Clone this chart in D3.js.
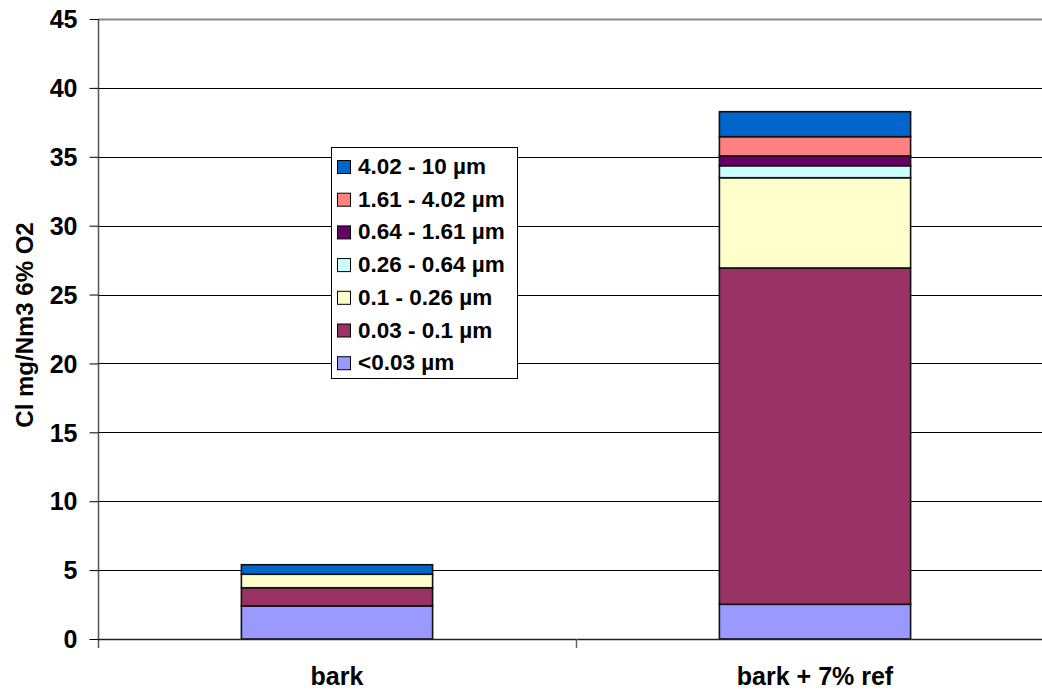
<!DOCTYPE html>
<html>
<head>
<meta charset="utf-8">
<script src="https://cdn.jsdelivr.net/npm/d3@7"></script>
<style>
  html, body { margin: 0; padding: 0; background: #fff; }
  svg { display: block; font-family: "Liberation Sans", Arial, sans-serif; font-weight: bold; }
</style>
</head>
<body>
<svg id="chart" width="1042" height="693"></svg>
<script>
// Cl concentration by particle size fraction (mg/Nm3 at 6% O2)
const categories = ["bark", "bark + 7% ref"];
const sizeClasses = ["<0.03 µm", "0.03 - 0.1 µm", "0.1 - 0.26 µm", "0.26 - 0.64 µm",
                     "0.64 - 1.61 µm", "1.61 - 4.02 µm", "4.02 - 10 µm"];
const colors = ["#9999FF", "#993366", "#FFFFCC", "#CCFFFF", "#660066", "#FF8080", "#0066CC"];
const barkValues = [2.40, 1.32, 0.98, 0.0, 0.0, 0.0, 0.69];
const refValues  = [2.52, 24.41, 6.55, 0.87, 0.71, 1.40, 1.81];
const yTicks = [0, 5, 10, 15, 20, 25, 30, 35, 40, 45];

(function draw() {
  const seriesValues = [barkValues, refValues];
  const rows = categories.map((c, i) => {
    const r = { category: c };
    sizeClasses.forEach((s, j) => { r[s] = seriesValues[i][j]; });
    return r;
  });

  const svg = d3.select("#chart");
  const pLeft = 98, pRight = 1054, pTop = 19, pBottom = 639;
  const fontFam = "Liberation Sans, Arial, sans-serif";

  const x = d3.scaleBand().domain(categories).range([pLeft, pRight])
    .paddingInner(0.6).paddingOuter(0.3);
  const y = d3.scaleLinear().domain([0, 45]).range([pBottom, pTop]);

  // horizontal gridlines
  svg.append("g").selectAll("line")
    .data(yTicks.filter(t => t > 0))
    .join("line")
    .attr("x1", pLeft).attr("x2", pRight)
    .attr("y1", d => Math.round(y(d)) + 0.5).attr("y2", d => Math.round(y(d)) + 0.5)
    .attr("stroke", d => d === 45 ? "#888" : "#000")
    .attr("stroke-width", d => d === 45 ? 2 : 1);

  // stacked bars
  const stack = d3.stack().keys(sizeClasses)(rows);
  svg.append("g").selectAll("g")
    .data(stack)
    .join("g")
    .attr("fill", (d, i) => colors[i])
    .selectAll("rect")
    .data(d => d.filter(p => p[1] - p[0] > 0))
    .join("rect")
    .attr("x", d => x(d.data.category))
    .attr("width", x.bandwidth())
    .attr("y", d => y(d[1]))
    .attr("height", d => y(d[0]) - y(d[1]))
    .attr("stroke", "#111")
    .attr("stroke-width", 1.6);

  // y axis
  const yAxis = d3.axisLeft(y).tickValues(yTicks).tickSize(9).tickPadding(12);
  const gy = svg.append("g").attr("transform", `translate(${pLeft + 0.5},0)`).call(yAxis);
  gy.attr("font-size", null).attr("font-family", null);
  gy.select(".domain").attr("stroke", "#555").attr("stroke-width", 1.5)
    .attr("d", `M0,${pTop}V${pBottom + 9}`);
  gy.selectAll(".tick line").attr("stroke", "#000");
  gy.selectAll("text")
    .style("font-size", "25px").style("font-weight", "bold")
    .style("font-family", fontFam).attr("fill", "#000")
    .attr("dy", "0.35em");

  // x axis
  const xAxis = d3.axisBottom(x).tickSize(0).tickPadding(0).tickFormat(() => "");
  const gx = svg.append("g").attr("transform", `translate(0,${pBottom + 0.5})`).call(xAxis);
  gx.select(".domain").attr("stroke", "#222").attr("stroke-width", 1.5)
    .attr("d", `M${pLeft},0H${pRight}`);
  // category separators
  const seps = [pLeft + x.step(), pRight];
  svg.append("g").selectAll("line").data(seps).join("line")
    .attr("x1", d => Math.round(d) + 0.5).attr("x2", d => Math.round(d) + 0.5)
    .attr("y1", pBottom).attr("y2", pBottom + 9)
    .attr("stroke", "#666").attr("stroke-width", 1.5);

  // category labels
  svg.append("g").selectAll("text").data(categories).join("text")
    .attr("x", d => x(d) + x.bandwidth() / 2)
    .attr("y", 685)
    .attr("text-anchor", "middle")
    .style("font-size", "25px")
    .attr("fill", "#000")
    .text(d => d);

  // y axis title
  svg.append("text")
    .attr("transform", "translate(33,325) rotate(-90)")
    .attr("text-anchor", "middle")
    .style("font-size", "24px")
    .attr("fill", "#000")
    .text("Cl mg/Nm3 6% O2");

  // legend
  const lg = svg.append("g").attr("transform", "translate(331,147)");
  lg.append("rect").attr("x", 0.5).attr("y", 0.5).attr("width", 186).attr("height", 231)
    .attr("fill", "#fff").attr("stroke", "#000").attr("stroke-width", 1);
  const legendOrder = sizeClasses.map((s, i) => ({ s, c: colors[i] })).reverse();
  const items = lg.selectAll("g.item").data(legendOrder).join("g")
    .attr("class", "item")
    .attr("transform", (d, i) => `translate(0,${27 + i * 32.7})`);
  items.append("rect").attr("x", 6.5).attr("y", -13.5).attr("width", 13).attr("height", 13)
    .attr("fill", d => d.c).attr("stroke", "#000").attr("stroke-width", 1);
  items.append("text").attr("x", 27).attr("y", 0)
    .style("font-size", "22.5px").attr("fill", "#000").text(d => d.s);
})();
</script>
</body>
</html>
